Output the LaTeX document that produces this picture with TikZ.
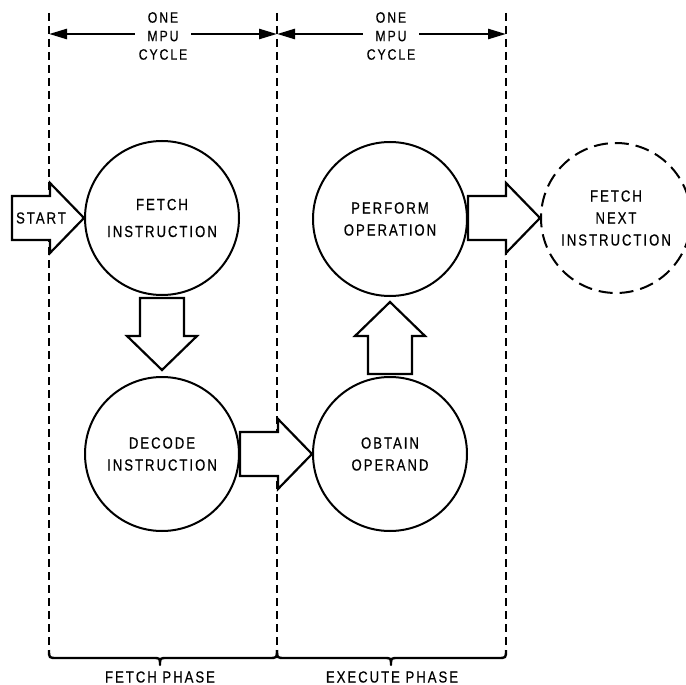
\documentclass[tikz,border=0pt]{standalone}
\usepackage{fontspec}
\newfontfamily\lbl[FakeStretch=0.82,LetterSpace=12.5,FakeBold=0.5]{Liberation Sans}
\usetikzlibrary{arrows.meta}
\begin{document}
\begin{tikzpicture}[x=1pt,y=-1pt,
  stage/.style={circle, draw, line width=2pt, minimum size=154pt, inner sep=0pt,
    align=center, font=\lbl\fontsize{16}{22}\selectfont},
  nextstage/.style={stage, minimum size=150pt, dash pattern=on 14pt off 7pt},
  phase/.style={line width=1.8pt, dash pattern=on 8pt off 5pt},
  span/.style={line width=2.6pt, {Triangle[length=18pt,width=10pt]}-{Triangle[length=18pt,width=10pt]}},
  cyclelabel/.style={fill=white, inner sep=4pt, align=center, font=\lbl\fontsize{15}{18.5}\selectfont},
  phaselabel/.style={inner sep=0pt, font=\lbl\fontsize{16}{20}\selectfont},
  bracket/.style={line width=2.4pt, line join=round},
  fat/.style={draw, fill=white, line width=2.2pt, line join=miter},
  fatarrow/.pic={\path[fat] (0,0) -- (-34,-35) -- (-34,-22) -- (-72,-22) -- (-72,22) -- (-34,22) -- (-34,35) -- cycle;}
]
\path[fill=white] (0,0) rectangle (686,685);
\useasboundingbox (0,0) rectangle (686,685);

% phase boundaries
\coordinate (t1) at (49,13);
\coordinate (t2) at (277,13);
\coordinate (t3) at (506,13);
\coordinate (b1) at (49,650);
\coordinate (b2) at (277,650);
\coordinate (b3) at (506,650);
\coordinate (dimrow) at (0,34);
\draw[phase] (t1) -- (b1);
\draw[phase] (t2) -- (b2);
\draw[phase] (t3) -- (b3);

% one MPU cycle per phase
\draw[span] (t1 |- dimrow) -- (t2 |- dimrow);
\draw[span] (t2 |- dimrow) -- (t3 |- dimrow);
\node[cyclelabel] (cyc1) at (163,36) {ONE\\MPU\\CYCLE};
\node[cyclelabel] (cyc2) at (391,36) {ONE\\MPU\\CYCLE};

% braces under the phases
\draw[bracket] (b1) .. controls (49,658) .. (57,658) -- (153,658)
  .. controls (160,658) .. (160,665) .. controls (160,658) .. (167,658)
  -- (269,658) .. controls (277,658) .. (b2);
\draw[bracket] (b2) .. controls (277,658) .. (285,658) -- (384,658)
  .. controls (391,658) .. (391,665) .. controls (391,658) .. (398,658)
  -- (498,658) .. controls (506,658) .. (b3);
\node[phaselabel] (fphase) at (160,677) {FETCH PHASE};
\node[phaselabel] (ephase) at (392,677) {EXECUTE PHASE};

% stages
\node[stage] (fetch) at (162,218) {FETCH\\[5pt]INSTRUCTION};
\node[stage] (decode) at (162,454) {DECODE\\INSTRUCTION};
\node[stage] (obtain) at (390,454) {OBTAIN\\OPERAND};
\node[stage] (perform) at (390,219) {PERFORM\\OPERATION};
\node[nextstage] (next) at (616,218) {FETCH\\NEXT\\INSTRUCTION};

% flow arrows
\pic at (fetch.west) {fatarrow};
\node[font=\lbl\fontsize{16}{20}\selectfont, inner sep=0pt] (start) at (41,218) {START};
\pic[rotate=-90] at ([yshift=6pt]decode.north) {fatarrow};
\pic at (obtain.west) {fatarrow};
\pic[rotate=90] at ([yshift=-5pt]perform.south) {fatarrow};
\pic at (next.west) {fatarrow};
\end{tikzpicture}
\end{document}
